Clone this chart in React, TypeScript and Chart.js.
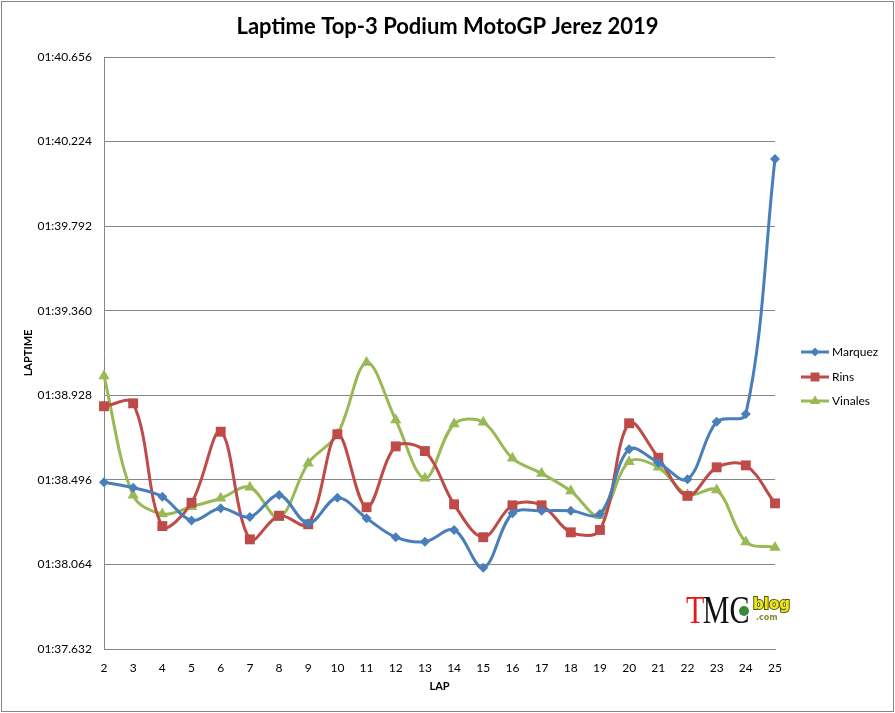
import React, { useEffect, useRef } from "react";
import { Chart, registerables } from "chart.js";

Chart.register(...registerables);

const laps = ["2","3","4","5","6","7","8","9","10","11","12","13","14","15","16","17","18","19","20","21","22","23","24","25"];
const marquez = [98.484, 98.456, 98.410, 98.289, 98.351, 98.306, 98.419, 98.274, 98.405, 98.300, 98.203, 98.180, 98.240, 98.047, 98.325, 98.338, 98.338, 98.322, 98.652, 98.584, 98.499, 98.793, 98.832, 100.135];
const rins = [98.872, 98.887, 98.260, 98.379, 98.742, 98.192, 98.313, 98.269, 98.729, 98.356, 98.667, 98.643, 98.371, 98.203, 98.366, 98.366, 98.228, 98.240, 98.785, 98.609, 98.414, 98.560, 98.570, 98.376];
const vinales = [99.026, 98.417, 98.322, 98.359, 98.402, 98.458, 98.303, 98.581, 98.729, 99.095, 98.802, 98.504, 98.781, 98.790, 98.606, 98.529, 98.439, 98.313, 98.589, 98.560, 98.419, 98.444, 98.179, 98.151];
const yTicks = [97.632, 98.064, 98.496, 98.928, 99.360, 99.792, 100.224, 100.656];
const seriesNames = ["Marquez", "Rins", "Vinales"];
const seriesColors = ["#4A7EBB", "#BE4B48", "#98B954"];
const seriesMarkers = ["rectRot", "rect", "triangle"];
const markerRadius = [5, 7, 6.5];
const titleText = "Laptime Top-3 Podium MotoGP Jerez 2019";

const FONT = "Lato, 'Open Sans', sans-serif";

function fmt(v: number): string {
  const m = Math.floor(v / 60);
  const s = v - m * 60;
  const ss = s.toFixed(3).padStart(6, "0");
  return String(m).padStart(2, "0") + ":" + ss;
}

const framePlugin = {
  id: "frame",
  beforeDraw(chart: any) {
    const ctx = chart.ctx;
    ctx.save();
    ctx.fillStyle = "#ffffff";
    ctx.fillRect(0, 0, chart.width, chart.height);
    ctx.strokeStyle = "#868686";
    ctx.lineWidth = 1;
    ctx.strokeRect(1.5, 1.5, chart.width - 3, chart.height - 3);
    ctx.restore();
  },
  afterDraw(chart: any) {
    const ctx = chart.ctx;
    ctx.save();
    ctx.font = "bold 22px " + FONT;
    ctx.fillStyle = "#000000";
    ctx.textAlign = "center";
    ctx.textBaseline = "middle";
    ctx.fillText(titleText, chart.width / 2, 27);
    ctx.restore();
  },
};

function drawMarker(ctx: CanvasRenderingContext2D, style: string, x: number, y: number, r: number) {
  ctx.beginPath();
  if (style === "rectRot") {
    ctx.moveTo(x, y - r);
    ctx.lineTo(x + r, y);
    ctx.lineTo(x, y + r);
    ctx.lineTo(x - r, y);
  } else if (style === "rect") {
    const s = r * Math.SQRT1_2;
    ctx.rect(x - s, y - s, 2 * s, 2 * s);
  } else {
    ctx.moveTo(x, y - r);
    ctx.lineTo(x + r * Math.sin(Math.PI / 3), y + r * 0.5);
    ctx.lineTo(x - r * Math.sin(Math.PI / 3), y + r * 0.5);
  }
  ctx.closePath();
  ctx.fill();
}

const legendPlugin = {
  id: "customLegend",
  afterDraw(chart: any) {
    const ctx = chart.ctx;
    const ys = [352, 377, 401];
    ctx.save();
    seriesNames.forEach((name, i) => {
      const y = ys[i];
      ctx.strokeStyle = seriesColors[i];
      ctx.lineWidth = 3;
      ctx.beginPath();
      ctx.moveTo(801, y);
      ctx.lineTo(829, y);
      ctx.stroke();
      ctx.fillStyle = seriesColors[i];
      drawMarker(ctx, seriesMarkers[i], 815, y, markerRadius[i] * 0.9);
      ctx.font = "12px " + FONT;
      ctx.fillStyle = "#000000";
      ctx.textBaseline = "middle";
      ctx.textAlign = "left";
      ctx.fillText(name, 832, y + 0.5);
    });
    ctx.restore();
  },
};

const logoPlugin = {
  id: "logo",
  afterDraw(chart: any) {
    const ctx = chart.ctx;
    ctx.save();
    ctx.textBaseline = "alphabetic";
    ctx.textAlign = "left";
    ctx.font = "39px 'Liberation Serif', 'DejaVu Serif', serif";
    ctx.translate(686, 623);
    ctx.scale(0.77, 1);
    ctx.fillStyle = "#e8161b";
    ctx.fillText("T", 0, 0);
    const tw = ctx.measureText("T").width;
    ctx.fillStyle = "#111111";
    ctx.fillText("MC", tw - 2, 0);
    ctx.restore();

    ctx.save();
    ctx.fillStyle = "#3a8a3a";
    ctx.beginPath();
    ctx.arc(744, 611, 5, 0, Math.PI * 2);
    ctx.fill();
    ctx.font = "bold 15px 'DejaVu Sans', sans-serif";
    ctx.textBaseline = "alphabetic";
    ctx.lineWidth = 2;
    ctx.strokeStyle = "#5a5a00";
    ctx.strokeText("blog", 753, 609);
    ctx.fillStyle = "#f0e81a";
    ctx.fillText("blog", 753, 609);
    ctx.font = "bold 8px 'DejaVu Sans', sans-serif";
    ctx.fillStyle = "#8a8a30";
    ctx.fillText(".com", 756, 620);
    ctx.restore();
  },
};

export default function App() {
  const ref = useRef<HTMLCanvasElement | null>(null);

  useEffect(() => {
    document.body.style.margin = "0";
    const canvas = ref.current;
    if (!canvas) return;
    const datasets = [marquez, rins, vinales].map((data, i) => ({
      label: seriesNames[i],
      data,
      borderColor: seriesColors[i],
      backgroundColor: seriesColors[i],
      borderWidth: 3,
      pointStyle: seriesMarkers[i] as any,
      pointRadius: markerRadius[i],
      pointBorderWidth: 0,
      pointBackgroundColor: seriesColors[i],
      pointBorderColor: seriesColors[i],
      tension: 0.35,
      fill: false,
    }));
    const chart = new Chart(canvas, {
      type: "line",
      data: { labels: laps, datasets },
      options: {
        animation: false,
        responsive: false,
        devicePixelRatio: 1,
        layout: { padding: { left: 0, right: 120, top: 57, bottom: 0 } },
        plugins: {
          legend: { display: false },
          tooltip: { enabled: false },
          title: { display: false },
        },
        scales: {
          x: {
            type: "category",
            offset: false,
            grid: { display: false },
            border: { display: true, color: "#868686", width: 1 },
            ticks: {
              color: "#000000",
              font: { family: FONT, size: 12 },
              autoSkip: false,
              maxRotation: 0,
              padding: 4,
            },
            title: {
              display: true,
              text: "LAP",
              color: "#000000",
              font: { family: FONT, size: 11, weight: "bold" },
              padding: { top: 4, bottom: 20 },
            },
            afterFit(scale: any) {
              scale.height = 64;
            },
          },
          y: {
            min: yTicks[0],
            max: yTicks[yTicks.length - 1],
            grid: { display: true, color: "#868686", lineWidth: 1, drawTicks: false },
            border: { display: true, color: "#868686", width: 1 },
            afterBuildTicks(scale: any) {
              scale.ticks = yTicks.map((v) => ({ value: v }));
            },
            ticks: {
              color: "#000000",
              font: { family: FONT, size: 12 },
              padding: 12,
              callback: (v: any) => fmt(Number(v)),
            },
            title: {
              display: true,
              text: "LAPTIME",
              color: "#000000",
              font: { family: FONT, size: 11, weight: "bold" },
              padding: { top: 22, bottom: 4 },
            },
            afterFit(scale: any) {
              scale.width = 104;
            },
          },
        },
      },
      plugins: [framePlugin, legendPlugin, logoPlugin],
    });
    return () => chart.destroy();
  }, []);

  return (
    <div style={{ width: 895, height: 713 }}>
      <canvas ref={ref} width={895} height={713} style={{ display: "block", width: 895, height: 713 }} />
    </div>
  );
}
